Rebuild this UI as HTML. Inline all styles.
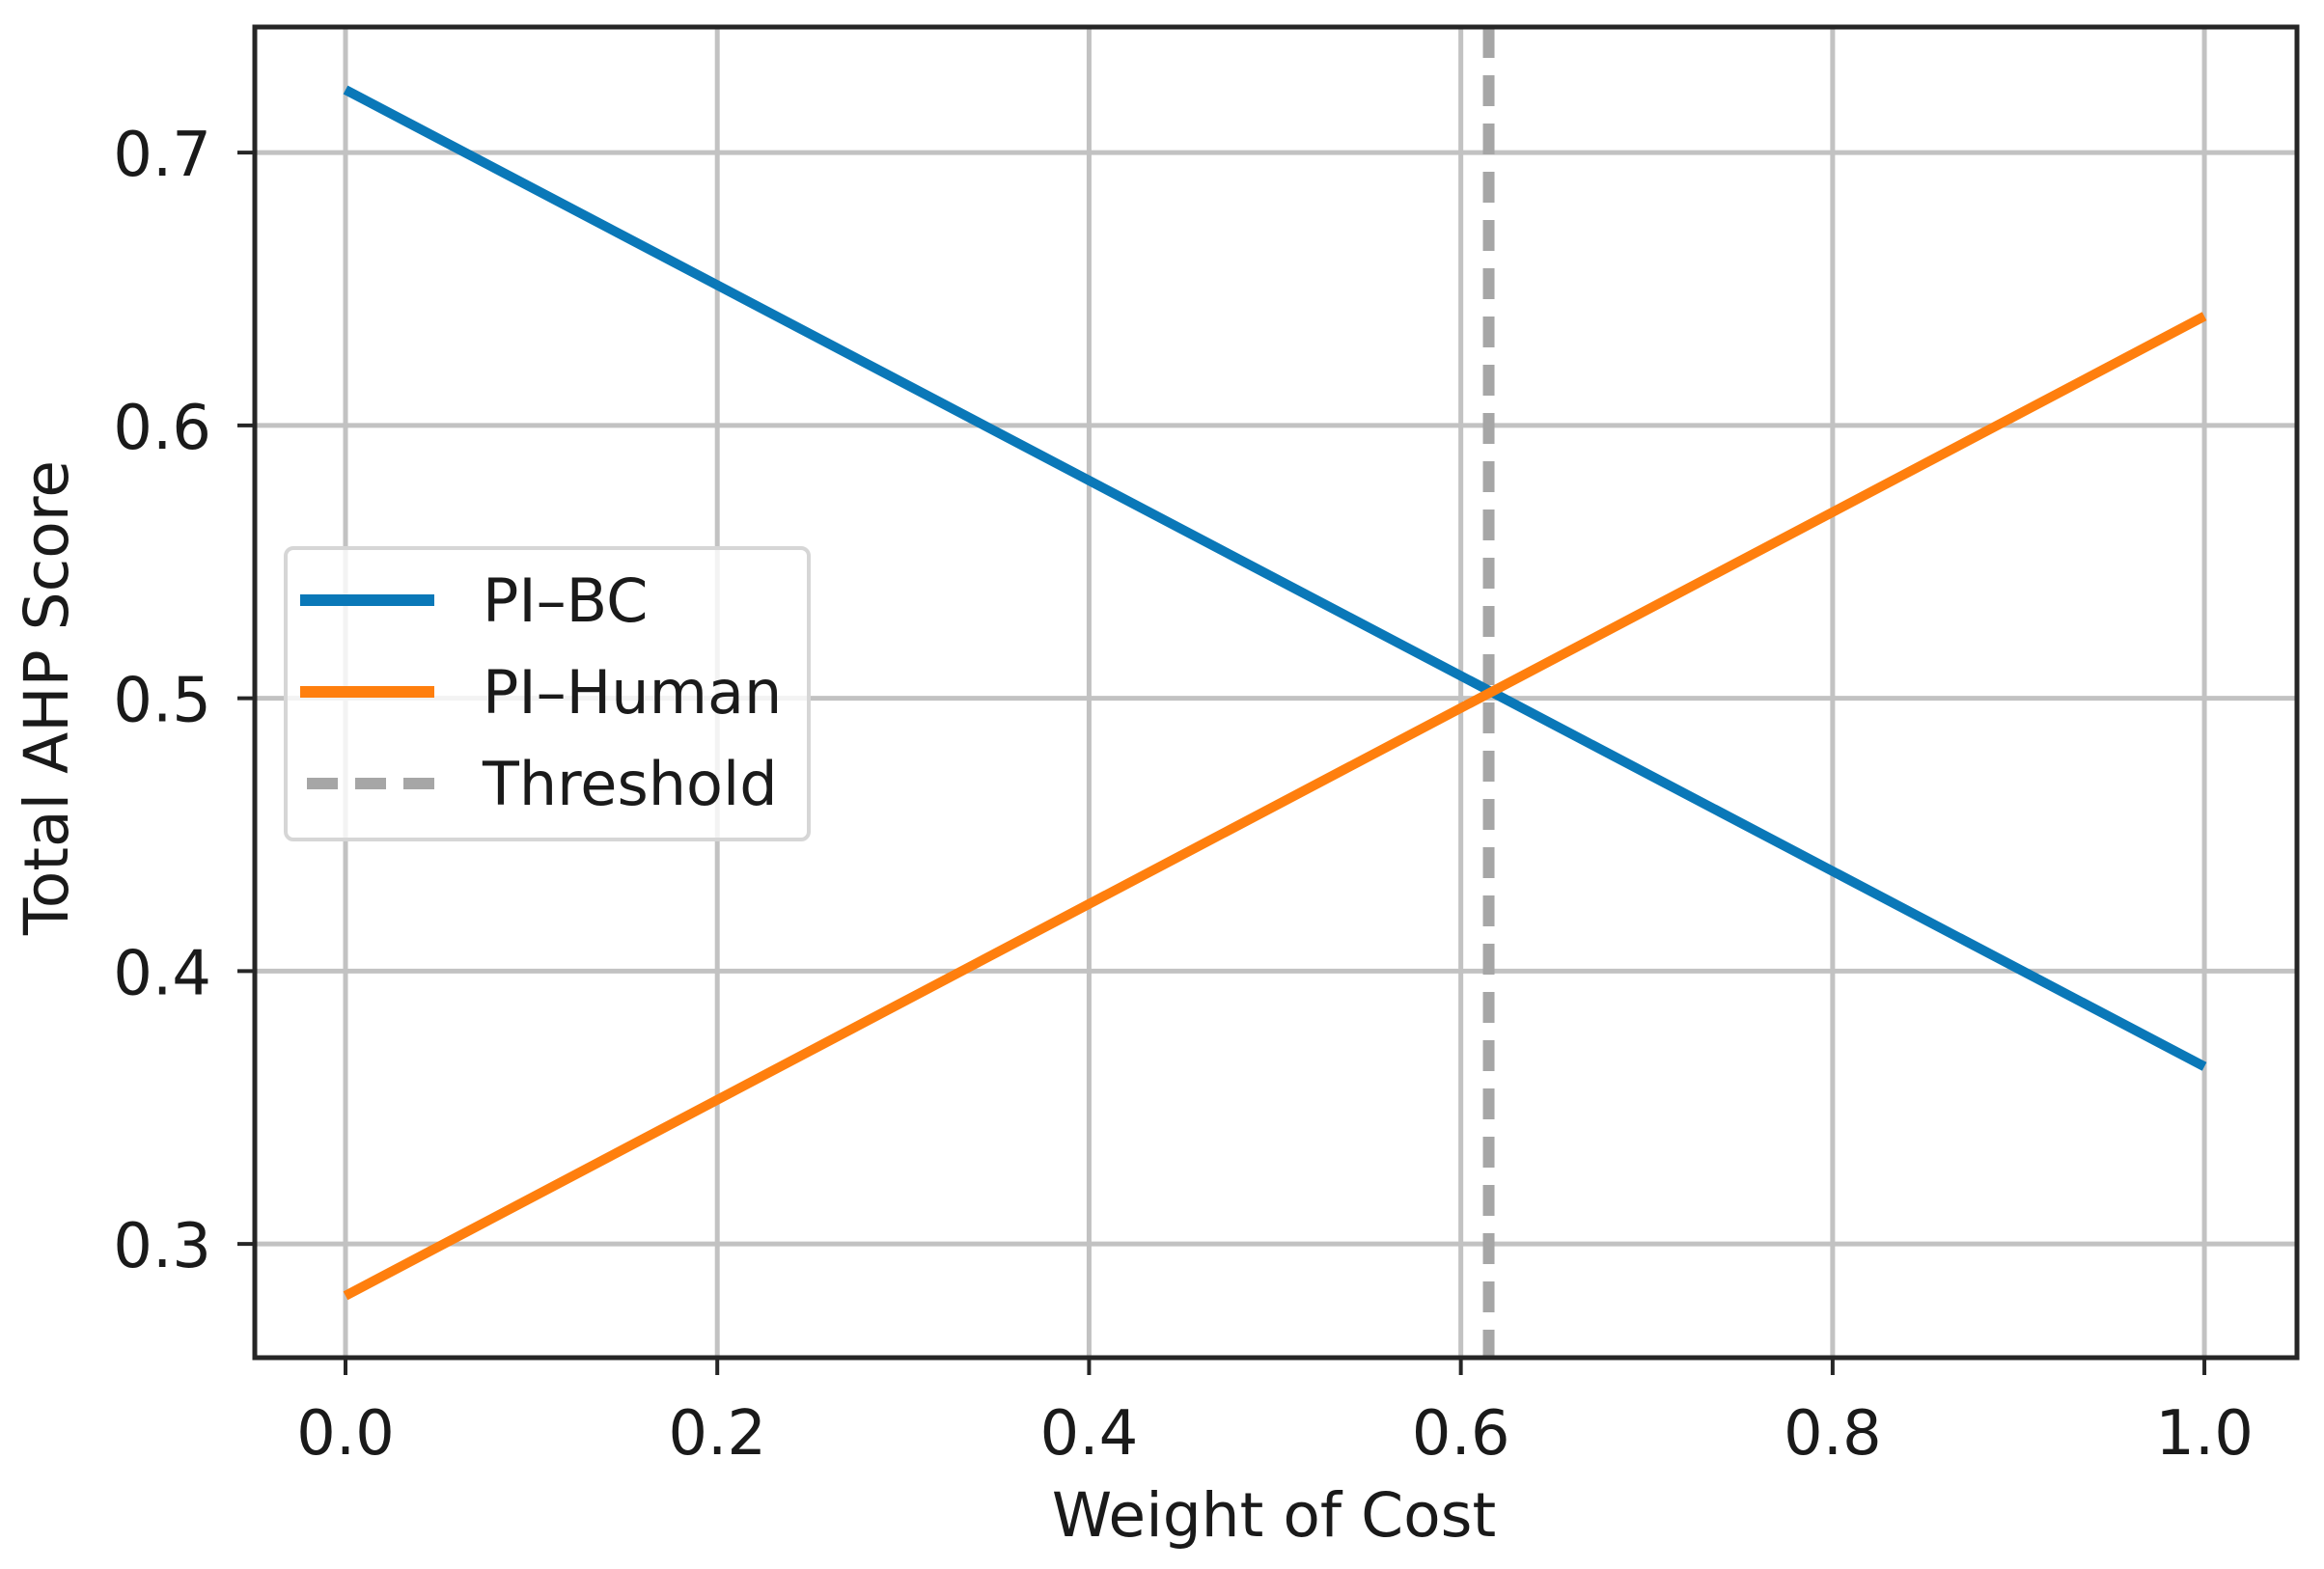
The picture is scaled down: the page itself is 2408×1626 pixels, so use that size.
<!DOCTYPE html>
<html><head><meta charset="utf-8"><style>
html,body{margin:0;padding:0;background:#fff;}
svg{display:block;}
text{font-family:"DejaVu Sans","Liberation Sans",sans-serif;fill:#1a1a1a;}
</style></head><body>
<svg id="chart" width="2408" height="1626" viewBox="0 0 2408 1626" xmlns="http://www.w3.org/2000/svg">
<rect width="2408" height="1626" fill="#fff"/>
<g id="grid"></g>
<g id="series"></g>
<g id="axes"></g>
<g id="legend">
  <rect x="296" y="568" width="542" height="302" rx="8" fill="#fff" fill-opacity="0.8" stroke="#d6d6d6" stroke-width="4"/>
  <line x1="311" y1="622" x2="450" y2="622" stroke="#0a78b8" stroke-width="12"/>
  <text x="500" y="644" font-size="62">PI–BC</text>
  <line x1="311" y1="717" x2="450" y2="717" stroke="#ff7f0e" stroke-width="12"/>
  <text x="500" y="739" font-size="62">PI–Human</text>
  <line x1="318" y1="812" x2="450" y2="812" stroke="#a6a6a6" stroke-width="12" stroke-dasharray="32,18"/>
  <text x="500" y="834" font-size="62">Threshold</text>
</g>
<text x="1320" y="1592" font-size="63" text-anchor="middle">Weight of Cost</text>
<text transform="translate(70,723) rotate(-90)" font-size="63" text-anchor="middle">Total AHP Score</text>
</svg>
<script>
const xValues = [0.0, 1.0];
const piBC = [0.723, 0.365];
const piHuman = [0.281, 0.640];
const thresholdX = [0.615];
const xTicks = [0.0, 0.2, 0.4, 0.6, 0.8, 1.0];
const xTickLabels = ["0.0", "0.2", "0.4", "0.6", "0.8", "1.0"];
const yTicks = [0.3, 0.4, 0.5, 0.6, 0.7];
const yTickLabels = ["0.3", "0.4", "0.5", "0.6", "0.7"];

const L = 264, R = 2380, T = 28, B = 1407;
const xMin = -0.0488, xMax = 1.0498, yMin = 0.2583, yMax = 0.746;
const NS = "http://www.w3.org/2000/svg";
function sx(v){ return L + (v - xMin) / (xMax - xMin) * (R - L); }
function sy(v){ return B - (v - yMin) / (yMax - yMin) * (B - T); }
function mk(tag, attrs, parent){
  const e = document.createElementNS(NS, tag);
  for (const k in attrs) e.setAttribute(k, attrs[k]);
  parent.appendChild(e);
  return e;
}
const grid = document.getElementById('grid');
const series = document.getElementById('series');
const axes = document.getElementById('axes');

xTicks.forEach((v, i) => {
  const g = mk('line', {x1: sx(v), x2: sx(v), y1: T, y2: B, stroke: '#c2c2c2', 'stroke-width': 5}, grid);
  
  
  const t = mk('line', {x1: sx(v), x2: sx(v), y1: B, y2: B + 18, stroke: '#262626', 'stroke-width': 4}, axes);
  
  
  const lb = mk('text', {x: sx(v), y: B + 100, 'font-size': 64, 'text-anchor': 'middle'}, axes);
  lb.textContent = xTickLabels[i];
  
  
});
yTicks.forEach((v, i) => {
  const g = mk('line', {x1: L, x2: R, y1: sy(v), y2: sy(v), stroke: '#c2c2c2', 'stroke-width': 5}, grid);
  
  
  const t = mk('line', {x1: L - 18, x2: L, y1: sy(v), y2: sy(v), stroke: '#262626', 'stroke-width': 4}, axes);
  
  
  const lb = mk('text', {x: L - 45, y: sy(v) + 24, 'font-size': 64, 'text-anchor': 'end'}, axes);
  lb.textContent = yTickLabels[i];
  
  
});

const thr = mk('line', {x1: sx(thresholdX[0]), x2: sx(thresholdX[0]), y1: T, y2: B, stroke: '#a6a6a6', 'stroke-width': 12, 'stroke-dasharray': '32,18'}, series);



function pts(ys){ return xValues.map((x, i) => sx(x) + ',' + sy(ys[i])).join(' '); }
const bc = mk('polyline', {points: pts(piBC), fill: 'none', stroke: '#0a78b8', 'stroke-width': 10}, series);


const hu = mk('polyline', {points: pts(piHuman), fill: 'none', stroke: '#ff7f0e', 'stroke-width': 10}, series);



const frame = mk('rect', {x: L, y: T, width: R - L, height: B - T, fill: 'none', stroke: '#262626', 'stroke-width': 5}, axes);


</script>
</body></html>
